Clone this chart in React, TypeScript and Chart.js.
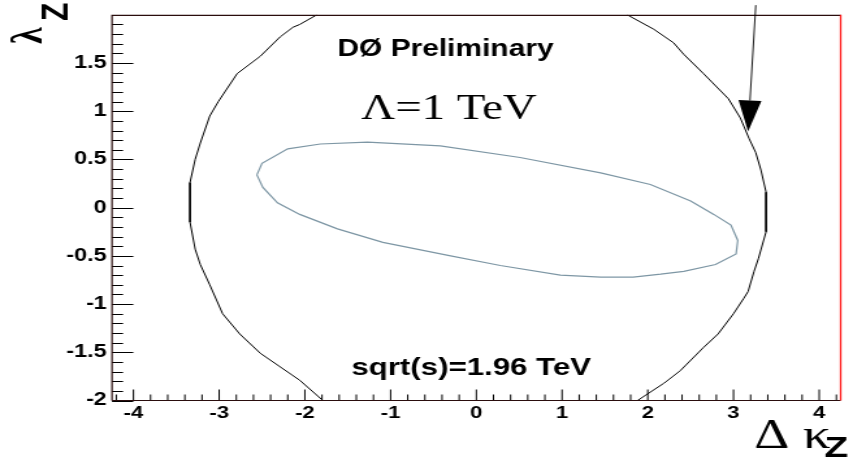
import React, { useEffect, useRef } from "react";
import { Chart, registerables } from "chart.js";

Chart.register(...registerables);

// The reference is a horizontally stretched picture: draw at 656 px wide and stretch to 853.
const CANVAS_W = 656;
const CANVAS_H = 460;
const DISPLAY_W = 853;

const SANS = "'Liberation Sans', Arial, Helvetica, sans-serif";
const SERIF = "'Liberation Serif', 'Times New Roman', serif";

// Axis ranges and ticks
const xMin = -4.25;
const xMax = 4.25;
const yMin = -2;
const yMax = 2;
const xTickValues = [-4, -3, -2, -1, 0, 1, 2, 3, 4];
const xTickLabels = ["-4", "-3", "-2", "-1", "0", "1", "2", "3", "4"];
const yTickValues = [-2, -1.5, -1, -0.5, 0, 0.5, 1, 1.5, 2];
const yTickLabels = ["-2", "-1.5", "-1", "-0.5", "0", "0.5", "1", "1.5", ""];
const xMinorStep = 0.2;
const yMinorStep = 0.1;

// Outer contour (black), left arc
const outerLeftX = [-1.86, -2.06, -2.14, -2.29, -2.52, -2.79, -3.01, -3.11, -3.22, -3.28, -3.34, -3.34, -3.28, -3.22, -3.11, -2.96, -2.76, -2.52, -2.06, -1.79];
const outerLeftY = [2.0, 1.9, 1.87, 1.77, 1.57, 1.39, 1.1, 0.95, 0.67, 0.5, 0.26, -0.15, -0.43, -0.59, -0.8, -1.1, -1.31, -1.51, -1.79, -2.0];

// Outer contour (black), right arc
const outerRightX = [1.76, 2.07, 2.3, 2.42, 2.65, 2.94, 3.08, 3.18, 3.26, 3.32, 3.38, 3.38, 3.29, 3.24, 3.17, 3.12, 3.0, 2.82, 2.65, 2.38, 2.19, 1.88];
const outerRightY = [2.0, 1.85, 1.71, 1.59, 1.39, 1.13, 0.93, 0.72, 0.57, 0.39, 0.16, -0.25, -0.53, -0.66, -0.87, -0.94, -1.1, -1.31, -1.45, -1.69, -1.82, -2.0];

// Inner contour (slate grey), closed
const innerX = [-2.56, -2.5, -2.2, -1.82, -1.27, -0.42, 0.51, 1.45, 2.03, 2.5, 2.77, 2.97, 3.05, 3.03, 2.79, 2.42, 2.15, 1.83, 1.45, 0.98, 0.28, -0.3, -1.09, -1.62, -2.06, -2.32, -2.49, -2.56];
const innerY = [0.34, 0.46, 0.61, 0.66, 0.68, 0.64, 0.52, 0.36, 0.24, 0.07, -0.07, -0.18, -0.34, -0.48, -0.59, -0.66, -0.69, -0.72, -0.72, -0.7, -0.6, -0.5, -0.36, -0.22, -0.07, 0.05, 0.21, 0.34];

// Arrow (data coordinates)
const arrowFrom = [3.26, 2.1];
const arrowTo = [3.17, 0.79];

// Annotations: [text, x, y] in data coordinates
const labelPreliminary = ["DØ Preliminary", -0.36, 1.57];
const labelLambda = ["Λ=1 TeV", -0.32, 0.92];
const labelSqrt = ["sqrt(s)=1.96 TeV", -0.06, -1.74];

const toPts = (xs: number[], ys: number[]) => xs.map((x, i) => ({ x, y: ys[i] }));

const decor = {
  id: "decor",
  beforeDraw(chart: any) {
    const ctx = chart.ctx;
    ctx.save();
    ctx.fillStyle = "#ffffff";
    ctx.fillRect(0, 0, chart.width, chart.height);
    ctx.restore();
  },
  afterDatasetsDraw(chart: any) {
    const { ctx, chartArea: a, scales } = chart;
    const sx = scales.x;
    const sy = scales.y;
    ctx.save();

    // ticks on the left axis (pointing inward)
    ctx.strokeStyle = "#000";
    ctx.lineWidth = 1;
    const nY = Math.round((yMax - yMin) / yMinorStep);
    for (let k = 0; k <= nY; k++) {
      const v = yMin + k * yMinorStep;
      const major = k % 5 === 0;
      const py = Math.round(sy.getPixelForValue(v)) + 0.5;
      ctx.beginPath();
      ctx.moveTo(a.left, py);
      ctx.lineTo(a.left + (major ? 16.4 : 8.5), py);
      ctx.stroke();
    }
    // ticks on the bottom axis (pointing inward)
    const kx0 = Math.ceil(xMin / xMinorStep - 1e-9);
    const kx1 = Math.floor(xMax / xMinorStep + 1e-9);
    for (let k = kx0; k <= kx1; k++) {
      const v = k * xMinorStep;
      const major = Math.abs(k) % 5 === 0;
      const px = sx.getPixelForValue(v);
      ctx.beginPath();
      ctx.moveTo(px, a.bottom);
      ctx.lineTo(px, a.bottom - (major ? 11 : 6));
      ctx.stroke();
    }

    // frame
    ctx.strokeStyle = "#2a0d0d";
    ctx.lineWidth = 1.2;
    ctx.beginPath();
    ctx.moveTo(a.left, a.top + 0.5);
    ctx.lineTo(a.right, a.top + 0.5);
    ctx.moveTo(a.left, a.top);
    ctx.lineTo(a.left, a.bottom);
    ctx.moveTo(a.left, a.bottom);
    ctx.lineTo(a.right, a.bottom);
    ctx.stroke();
    ctx.strokeStyle = "#ff1a1a";
    ctx.lineWidth = 1.3;
    ctx.beginPath();
    ctx.moveTo(a.right, a.top);
    ctx.lineTo(a.right, a.bottom);
    ctx.stroke();

    // arrow
    const x0 = sx.getPixelForValue(arrowFrom[0]);
    const y0 = sy.getPixelForValue(arrowFrom[1]);
    const x1 = sx.getPixelForValue(arrowTo[0]);
    const y1 = sy.getPixelForValue(arrowTo[1]);
    const ang = Math.atan2(y1 - y0, x1 - x0);
    const headLen = 31;
    const headHalf = 8.8;
    const bx = x1 - headLen * Math.cos(ang);
    const by = y1 - headLen * Math.sin(ang);
    ctx.strokeStyle = "#000";
    ctx.lineWidth = 0.9;
    ctx.beginPath();
    ctx.moveTo(x0, y0);
    ctx.lineTo(bx, by);
    ctx.stroke();
    ctx.fillStyle = "#000";
    ctx.beginPath();
    ctx.moveTo(x1, y1);
    ctx.lineTo(bx + headHalf * Math.sin(ang), by - headHalf * Math.cos(ang));
    ctx.lineTo(bx - headHalf * Math.sin(ang), by + headHalf * Math.cos(ang));
    ctx.closePath();
    ctx.fill();

    // annotations
    ctx.fillStyle = "#000";
    ctx.textAlign = "center";
    ctx.textBaseline = "alphabetic";
    ctx.font = `bold 23px ${SANS}`;
    ctx.fillText(labelPreliminary[0] as string, sx.getPixelForValue(labelPreliminary[1] as number), sy.getPixelForValue(labelPreliminary[2] as number));
    ctx.font = `36px ${SERIF}`;
    ctx.fillText(labelLambda[0] as string, sx.getPixelForValue(labelLambda[1] as number), sy.getPixelForValue(labelLambda[2] as number));
    ctx.font = `bold 24px ${SANS}`;
    ctx.fillText(labelSqrt[0] as string, sx.getPixelForValue(labelSqrt[1] as number), sy.getPixelForValue(labelSqrt[2] as number));

    ctx.restore();
  },
  afterDraw(chart: any) {
    const ctx = chart.ctx;
    ctx.save();
    ctx.fillStyle = "#000";
    ctx.textBaseline = "alphabetic";
    ctx.textAlign = "left";
    // y-axis title  λ_Z  (rotated)
    ctx.save();
    ctx.rotate(-Math.PI / 2);
    ctx.font = `bold 34px ${SERIF}`;
    ctx.fillText("λ", -44, 32);
    ctx.font = `bold 30px ${SANS}`;
    ctx.fillText("Z", -21, 52);
    ctx.restore();
    // x-axis title  Δ κ_Z
    ctx.font = `42px ${SERIF}`;
    ctx.fillText("Δ κ", 580, 448);
    ctx.font = `bold 30px ${SANS}`;
    ctx.fillText("Z", 634, 457);
    ctx.restore();
  },
};

export default function App() {
  const ref = useRef<HTMLCanvasElement>(null);

  useEffect(() => {
    if (!ref.current) return;
    const chart = new Chart(ref.current, {
      type: "scatter",
      data: {
        datasets: [
          {
            data: toPts(outerLeftX, outerLeftY),
            showLine: true,
            borderColor: "#000000",
            borderWidth: 1,
            pointRadius: 0,
            fill: false,
          },
          {
            data: toPts(outerRightX, outerRightY),
            showLine: true,
            borderColor: "#000000",
            borderWidth: 1,
            pointRadius: 0,
            fill: false,
          },
          {
            data: toPts(innerX, innerY),
            showLine: true,
            borderColor: "#7e97a5",
            borderWidth: 1.2,
            pointRadius: 0,
            fill: false,
          },
        ],
      },
      options: {
        responsive: false,
        animation: false,
        events: [],
        layout: { padding: { top: 10, right: 9.5, left: 0, bottom: 0 } },
        plugins: { legend: { display: false }, tooltip: { enabled: false } },
        scales: {
          x: {
            type: "linear",
            position: "bottom",
            min: xMin,
            max: xMax,
            grid: { display: false, drawTicks: false },
            border: { display: false },
            ticks: {
              font: { family: SANS, size: 17, weight: "bold" },
              color: "#000",
              padding: 3,
              maxRotation: 0,
              autoSkip: false,
              callback: (_v: any, i: number) => xTickLabels[i],
            },
            afterBuildTicks: (s: any) => {
              s.ticks = xTickValues.map((value) => ({ value }));
            },
            afterFit: (s: any) => {
              s.height = 59.5;
            },
          },
          y: {
            type: "linear",
            position: "left",
            min: yMin,
            max: yMax,
            grid: { display: false, drawTicks: false },
            border: { display: false },
            ticks: {
              font: { family: SANS, size: 18, weight: "bold" },
              color: "#000",
              padding: 4,
              autoSkip: false,
              callback: (_v: any, i: number) => yTickLabels[i],
            },
            afterBuildTicks: (s: any) => {
              s.ticks = yTickValues.map((value) => ({ value }));
            },
            afterFit: (s: any) => {
              s.width = 86.13;
            },
          },
        },
      },
      plugins: [decor],
    } as any);
    return () => chart.destroy();
  }, []);

  return (
    <div style={{ position: "fixed", left: 0, top: 0, width: DISPLAY_W, height: CANVAS_H, background: "#fff" }}>
      <canvas
        ref={ref}
        width={CANVAS_W}
        height={CANVAS_H}
        style={{ width: `${DISPLAY_W}px`, height: `${CANVAS_H}px`, display: "block" }}
      />
    </div>
  );
}
